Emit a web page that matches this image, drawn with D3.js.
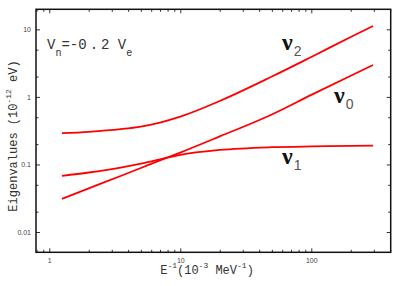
<!DOCTYPE html>
<html><head><meta charset="utf-8">
<script src="https://cdn.jsdelivr.net/npm/d3@7"></script>
<style>html,body{margin:0;padding:0;background:#fff;}svg{display:block;}</style>
</head><body>
<svg id="c" width="409" height="286"></svg>
<script>
// Data (x = E^-1 in 10^-3 MeV^-1, y = eigenvalue in 10^-12 eV)
const xValues  = [1.25, 2, 3.5, 5, 7, 10, 20, 50, 100, 200, 296];
const nu2      = [0.29, 0.304, 0.333, 0.364, 0.417, 0.51, 0.87, 2.0, 3.9, 7.7, 11.2];
const nu0      = [0.031, 0.0443, 0.0675, 0.0887, 0.115, 0.150, 0.26, 0.55, 1.07, 2.06, 2.97];
const nu1      = [0.068, 0.076, 0.090, 0.103, 0.119, 0.139, 0.164, 0.180, 0.185, 0.188, 0.190];
const xMajor   = [1, 10, 100];
const xMinor   = [0.8, 0.9, 2, 3, 4, 5, 6, 7, 8, 9, 20, 30, 40, 50, 60, 70, 80, 90, 200, 300, 400];
const yMajor   = [0.01, 0.1, 1, 10];
const yMinor   = [0.02, 0.05, 0.2, 0.5, 2, 5];
const xTickLabels = ["1", "10", "100"];
const yTickLabels = ["0.01", "0.1", "1", "10"];

const L = 36, R = 390.7, T = 9.3, B = 252.3;
const x = d3.scaleLog().domain([0.792, 403.7]).range([L, R]);
const y = d3.scaleLog().domain([0.00501, 19.8]).range([B, T]);

const svg = d3.select("#c");
const mono = "Liberation Mono, DejaVu Sans Mono, monospace";
const sans = "Liberation Sans, Arial, sans-serif";

// curves
const line = d3.line().x(d => x(d[0])).y(d => y(d[1])).curve(d3.curveMonotoneX);
[nu2, nu0, nu1].forEach(s => {
  svg.append("path").datum(xValues.map((v, i) => [v, s[i]]))
    .attr("d", line).attr("fill", "none").attr("stroke", "#ff0000").attr("stroke-width", 1.8);
});

// axes (ticks inward) using d3 axes
const gB = svg.append("g").attr("transform", `translate(0,${B})`)
  .call(d3.axisBottom(x).tickValues(xMajor).tickSize(-4).tickFormat((d,i) => xTickLabels[i]));
const gBm = svg.append("g").attr("transform", `translate(0,${B})`)
  .call(d3.axisBottom(x).tickValues(xMinor).tickSize(-2.5).tickFormat(""));
const gT = svg.append("g").attr("transform", `translate(0,${T})`)
  .call(d3.axisTop(x).tickValues(xMajor).tickSize(-4).tickFormat(""));
const gTm = svg.append("g").attr("transform", `translate(0,${T})`)
  .call(d3.axisTop(x).tickValues(xMinor).tickSize(-2.5).tickFormat(""));
const gLft = svg.append("g").attr("transform", `translate(${L},0)`)
  .call(d3.axisLeft(y).tickValues(yMajor).tickSize(-4).tickFormat((d,i) => yTickLabels[i]));
const gLm = svg.append("g").attr("transform", `translate(${L},0)`)
  .call(d3.axisLeft(y).tickValues(yMinor).tickSize(-2.5).tickFormat(""));
const gR = svg.append("g").attr("transform", `translate(${R},0)`)
  .call(d3.axisRight(y).tickValues(yMajor).tickSize(-4).tickFormat(""));
const gRm = svg.append("g").attr("transform", `translate(${R},0)`)
  .call(d3.axisRight(y).tickValues(yMinor).tickSize(-2.5).tickFormat(""));

[gB, gBm, gT, gTm, gLft, gLm, gR, gRm].forEach(g => {
  g.select(".domain").remove();
  g.selectAll(".tick line").attr("stroke", "#333").attr("stroke-width", 1);
});
gB.selectAll(".tick text").attr("font-family", sans).attr("font-size", 7).attr("fill", "#444")
  .attr("y", 5.5).attr("dy", "0.71em");
gLft.selectAll(".tick text").attr("font-family", sans).attr("font-size", 7).attr("fill", "#444")
  .attr("x", -5);

// frame
svg.append("rect").attr("x", L).attr("y", T).attr("width", R - L).attr("height", B - T)
  .attr("fill", "none").attr("stroke", "#111").attr("stroke-width", 1.5);

// annotation V_n = -0.2 V_e
const ann = svg.append("text").attr("x", 47).attr("y", 48.5)
  .attr("font-family", mono).attr("font-size", 14).attr("fill", "#333");
ann.append("tspan").text("V");
ann.append("tspan").attr("font-size", 10).attr("dy", 7).text("n");
ann.append("tspan").attr("dy", -7).text("=-0");
ann.append("tspan").attr("dx", 3).text(".");
ann.append("tspan").attr("dx", 3).text("2 V");
ann.append("tspan").attr("font-size", 10).attr("dy", 7).text("e");

// curve labels
function nuLabel(xp, yp, sub) {
  const t = svg.append("text").attr("x", xp).attr("y", yp)
    .attr("font-family", "Liberation Serif, DejaVu Serif, serif").attr("font-size", 24)
    .attr("font-weight", "bold").attr("fill", "#111");
  t.append("tspan").text("\u03bd");
  t.append("tspan").attr("font-family", sans).attr("font-weight", "normal").attr("font-size", 14).attr("fill", "#555")
    .attr("dy", 6).attr("dx", 1).text(sub);
}
nuLabel(282, 50, "2");
nuLabel(334, 103, "0");
nuLabel(282, 164, "1");

// axis titles
const xt = svg.append("text").attr("x", 207).attr("y", 274).attr("text-anchor", "middle")
  .attr("font-family", mono).attr("font-size", 12).attr("fill", "#333");
xt.append("tspan").text("E");
xt.append("tspan").attr("font-size", 8).attr("dy", -6).text("-1");
xt.append("tspan").attr("dy", 6).text("(10");
xt.append("tspan").attr("font-size", 8).attr("dy", -6).text("-3");
xt.append("tspan").attr("dy", 6).text(" MeV");
xt.append("tspan").attr("font-size", 8).attr("dy", -6).text("-1");
xt.append("tspan").attr("dy", 6).text(")");

const yt = svg.append("text").attr("transform", "translate(17,136) rotate(-90)")
  .attr("text-anchor", "middle").attr("font-family", mono).attr("font-size", 12).attr("fill", "#333");
yt.append("tspan").text("Eigenvalues (10");
yt.append("tspan").attr("font-size", 8).attr("dy", -6).text("-12");
yt.append("tspan").attr("dy", 6).text(" eV)");
</script>
</body></html>
